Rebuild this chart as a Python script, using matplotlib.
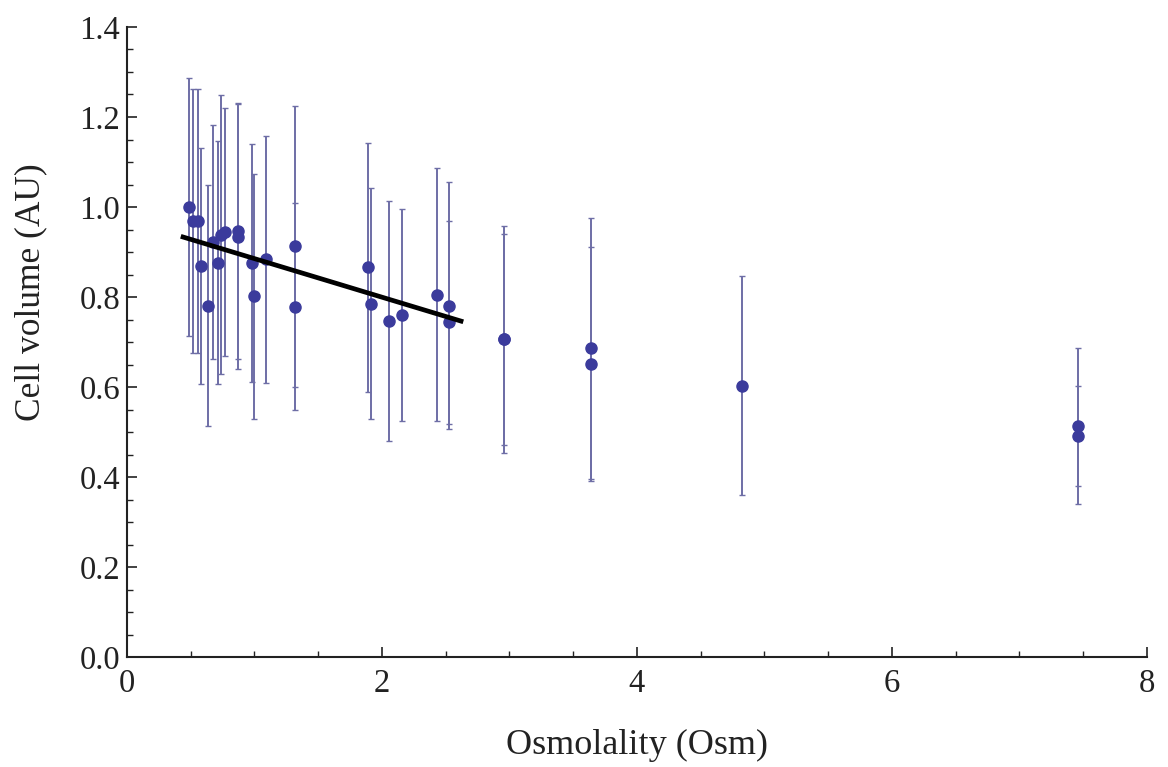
import numpy as np
import matplotlib.pyplot as plt
from matplotlib.ticker import MultipleLocator

osm = [0.486, 0.52, 0.555, 0.58, 0.633, 0.677, 0.716, 0.735, 0.769, 0.873,
       0.868, 0.978, 0.999, 1.088, 1.318, 1.318, 1.888, 1.911, 2.052, 2.157,
       2.434, 2.528, 2.528, 2.957, 2.957, 3.637, 3.637, 4.821, 7.456, 7.456]
volume = [1.000, 0.969, 0.969, 0.869, 0.781, 0.923, 0.876, 0.938, 0.945, 0.947,
          0.934, 0.876, 0.802, 0.884, 0.913, 0.778, 0.866, 0.785, 0.747, 0.760,
          0.805, 0.781, 0.744, 0.706, 0.706, 0.686, 0.652, 0.603, 0.514, 0.491]
volume_err = [0.287, 0.293, 0.293, 0.263, 0.268, 0.260, 0.270, 0.310, 0.275, 0.285,
              0.295, 0.265, 0.272, 0.274, 0.312, 0.230, 0.276, 0.257, 0.266, 0.236,
              0.281, 0.275, 0.226, 0.252, 0.235, 0.290, 0.260, 0.243, 0.173, 0.112]

# linear fit over the low osmolality range
fit_slope = -0.0857
fit_intercept = 0.971
fit_range = [0.44, 2.62]

plt.rcParams['font.family'] = ['Liberation Serif', 'DejaVu Serif']

fig = plt.figure(figsize=(11.68, 7.67), dpi=100)
ax = fig.add_axes([0.1087, 0.1434, 0.8733, 0.8214])

ax.errorbar(osm, volume, yerr=volume_err, fmt='none', ecolor='#6e6ea6',
            elinewidth=1.4, capsize=2.5, capthick=1.0, zorder=2)
ax.plot(osm, volume, 'o', color='#3b3b9c', markersize=8, zorder=3)

xf = np.array(fit_range)
ax.plot(xf, fit_intercept + fit_slope * xf, color='black', linewidth=3.4, zorder=4)

ax.set_xlim(0, 8)
ax.set_ylim(0, 1.4)
ax.xaxis.set_major_locator(MultipleLocator(2))
ax.xaxis.set_minor_locator(MultipleLocator(0.5))
ax.yaxis.set_major_locator(MultipleLocator(0.2))
ax.yaxis.set_minor_locator(MultipleLocator(0.05))
ax.yaxis.set_major_formatter(plt.FuncFormatter(lambda v, p: f'{v:.1f}'))

for side in ['top', 'right']:
    ax.spines[side].set_visible(False)
for side in ['left', 'bottom']:
    ax.spines[side].set_linewidth(1.5)
    ax.spines[side].set_color('#222222')

ax.tick_params(which='major', direction='in', length=7, width=1.2, labelsize=23.5,
               colors='#222222')
ax.tick_params(axis='x', which='major', pad=8)
ax.tick_params(axis='y', which='major', pad=5)
ax.tick_params(which='minor', direction='in', length=4, width=1.0, colors='#222222')

ax.set_xlabel('Osmolality (Osm)', fontsize=26, labelpad=22, color='#222222')
ax.set_ylabel('Cell volume (AU)', fontsize=25.5, color='#222222')
ax.yaxis.set_label_coords(-0.078, 0.579)

fig.savefig('out.png', dpi=100)
